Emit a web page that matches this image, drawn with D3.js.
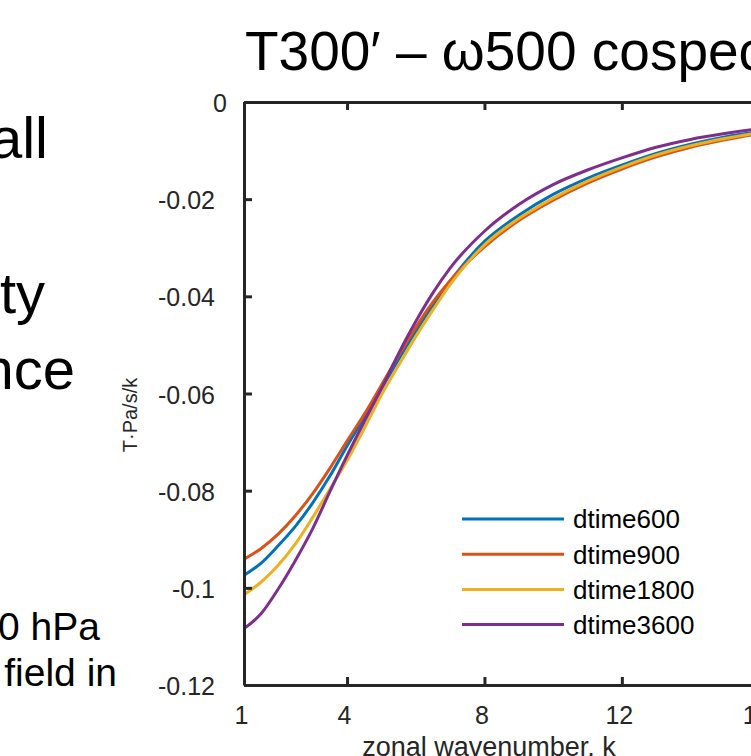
<!DOCTYPE html>
<html>
<head>
<meta charset="utf-8">
<script src="https://cdn.jsdelivr.net/npm/d3@7"></script>
<style>
  body { margin: 0; background: #fff; }
  svg { display: block; font-family: "Liberation Sans", Arial, Helvetica, sans-serif; }
</style>
</head>
<body>
<svg id="chart" width="751" height="756"></svg>
<script>
// wavenumbers sampled
const wavenumbers = [1, 1.5, 2, 2.5, 3, 3.5, 4, 4.5, 5, 5.5, 6, 6.5, 7, 8, 9, 10, 11, 12, 13, 14, 15, 16, 17, 18, 19, 20];

const dtime600  = [-0.0974, -0.0949, -0.0913, -0.0873, -0.0825, -0.0770, -0.0708, -0.0650, -0.0590, -0.0530, -0.0472, -0.0418, -0.0369, -0.0287, -0.0233, -0.0190, -0.0157, -0.0130, -0.0106, -0.0087, -0.0072, -0.0061, -0.0051, -0.0043, -0.0036, -0.0030];
const dtime900  = [-0.0941, -0.0919, -0.0889, -0.0851, -0.0806, -0.0754, -0.0698, -0.0643, -0.0583, -0.0522, -0.0464, -0.0412, -0.0368, -0.0298, -0.0244, -0.0202, -0.0167, -0.0138, -0.0113, -0.0093, -0.0078, -0.0065, -0.0055, -0.0046, -0.0039, -0.0033];
const dtime1800 = [-0.1014, -0.0988, -0.0953, -0.0909, -0.0855, -0.0797, -0.0738, -0.0672, -0.0603, -0.0542, -0.0483, -0.0428, -0.0376, -0.0294, -0.0240, -0.0198, -0.0163, -0.0134, -0.0109, -0.0090, -0.0075, -0.0063, -0.0053, -0.0045, -0.0038, -0.0032];
const dtime3600 = [-0.1084, -0.1053, -0.1002, -0.0943, -0.0878, -0.0802, -0.0728, -0.0658, -0.0590, -0.0518, -0.0452, -0.0393, -0.0342, -0.0266, -0.0211, -0.0170, -0.0140, -0.0115, -0.0093, -0.0077, -0.0065, -0.0055, -0.0047, -0.0040, -0.0034, -0.0029];

const seriesNames = ['dtime600', 'dtime900', 'dtime1800', 'dtime3600'];
const seriesValues = [dtime600, dtime900, dtime1800, dtime3600];
const seriesColors = ['#0072BD', '#D95319', '#EDB120', '#7E2F8E'];

const xTicks = [1, 4, 8, 12, 16, 20];
const yTicks = [0, -0.02, -0.04, -0.06, -0.08, -0.1, -0.12];

// slide text to the left of the chart (cut off in the picture)
const slideBig = [
    {text: 'all', x: 48, y: 158},
    {text: 'ty', x: 45, y: 313},
    {text: 'nce', x: 75, y: 389}
];
const slideSmall = [
    {text: '0 hPa', x: 100, y: 640},
    {text: 'field in', x: 117, y: 686}
];

const svg = d3.select('#chart');
const axisColor = '#262626';

const plotLeft = 244, plotTop = 102, plotBottom = 685;
const plotRight = plotLeft + 19 * 34.35;

const x = d3.scaleLinear().domain([1, 20]).range([plotLeft, plotRight]);
const y = d3.scaleLinear().domain([-0.12, 0]).range([plotBottom, plotTop]);

// slide text
svg.selectAll('text.big')
    .data(slideBig)
    .enter()
    .append('text')
    .attr('class', 'big')
    .attr('x', d => d.x)
    .attr('y', d => d.y)
    .attr('text-anchor', 'end')
    .attr('font-size', 58)
    .attr('fill', '#000')
    .text(d => d.text);

svg.selectAll('text.small')
    .data(slideSmall)
    .enter()
    .append('text')
    .attr('class', 'small')
    .attr('x', d => d.x)
    .attr('y', d => d.y)
    .attr('text-anchor', 'end')
    .attr('font-size', 39)
    .attr('fill', '#000')
    .text(d => d.text);

// title
svg.append('text')
    .attr('x', 245)
    .attr('y', 70)
    .attr('font-size', 55)
    .attr('fill', '#000')
    .text('T300\u2032 \u2013 \u03c9500 cospectrum');

// lines
const line = d3.line()
    .x((d, i) => x(wavenumbers[i]))
    .y(d => y(d))
    .curve(d3.curveMonotoneX);

svg.append('g')
    .selectAll('path')
    .data(seriesValues)
    .enter()
    .append('path')
    .attr('d', d => line(d))
    .attr('fill', 'none')
    .attr('stroke', (d, i) => seriesColors[i])
    .attr('stroke-width', 3);

// axes
const yFormat = d => d === 0 ? '0' : String(+d.toFixed(2));

const yAxis = svg.append('g')
    .attr('transform', `translate(${plotLeft},0)`)
    .call(d3.axisLeft(y).tickValues(yTicks).tickFormat(yFormat).tickSizeInner(-8).tickSizeOuter(0).tickPadding(29));

const xAxis = svg.append('g')
    .attr('transform', `translate(0,${plotBottom})`)
    .call(d3.axisBottom(x).tickValues(xTicks).tickSizeInner(-8).tickSizeOuter(0).tickPadding(22));

const xTop = svg.append('g')
    .attr('transform', `translate(0,${plotTop})`)
    .call(d3.axisTop(x).tickValues(xTicks).tickFormat('').tickSizeInner(-8).tickSizeOuter(0));

[yAxis, xAxis, xTop].forEach(g => {
    g.select('.domain').attr('stroke', axisColor).attr('stroke-width', 3);
    g.selectAll('.tick line').attr('stroke', axisColor).attr('stroke-width', 3);
    g.selectAll('.tick text').attr('fill', axisColor).attr('font-size', 25).attr('font-family', null);
});

yAxis.selectAll('.tick text').attr('dy', '0.38em');
yAxis.selectAll('.tick')
    .filter(d => d === 0)
    .select('text')
    .attr('x', -17);
xAxis.selectAll('.tick text').attr('dx', -3).attr('dy', '0.68em');

// axis labels
svg.append('text')
    .attr('x', 489)
    .attr('y', 756)
    .attr('text-anchor', 'middle')
    .attr('font-size', 27)
    .attr('fill', axisColor)
    .text('zonal wavenumber, k');

svg.append('text')
    .attr('transform', 'translate(137,415) rotate(-90)')
    .attr('text-anchor', 'middle')
    .attr('font-size', 20)
    .attr('fill', axisColor)
    .text('T\u00b7Pa/s/k');

// legend
const legend = svg.append('g')
    .selectAll('g')
    .data(seriesNames)
    .enter()
    .append('g')
    .attr('transform', (d, i) => `translate(462,${519 + i * 35.2})`);

legend.append('line')
    .attr('x1', 0)
    .attr('x2', 102)
    .attr('stroke', (d, i) => seriesColors[i])
    .attr('stroke-width', 3);

legend.append('text')
    .attr('x', 111)
    .attr('dy', '0.36em')
    .attr('font-size', 26)
    .attr('fill', '#000')
    .text(d => d);
</script>
</body>
</html>
